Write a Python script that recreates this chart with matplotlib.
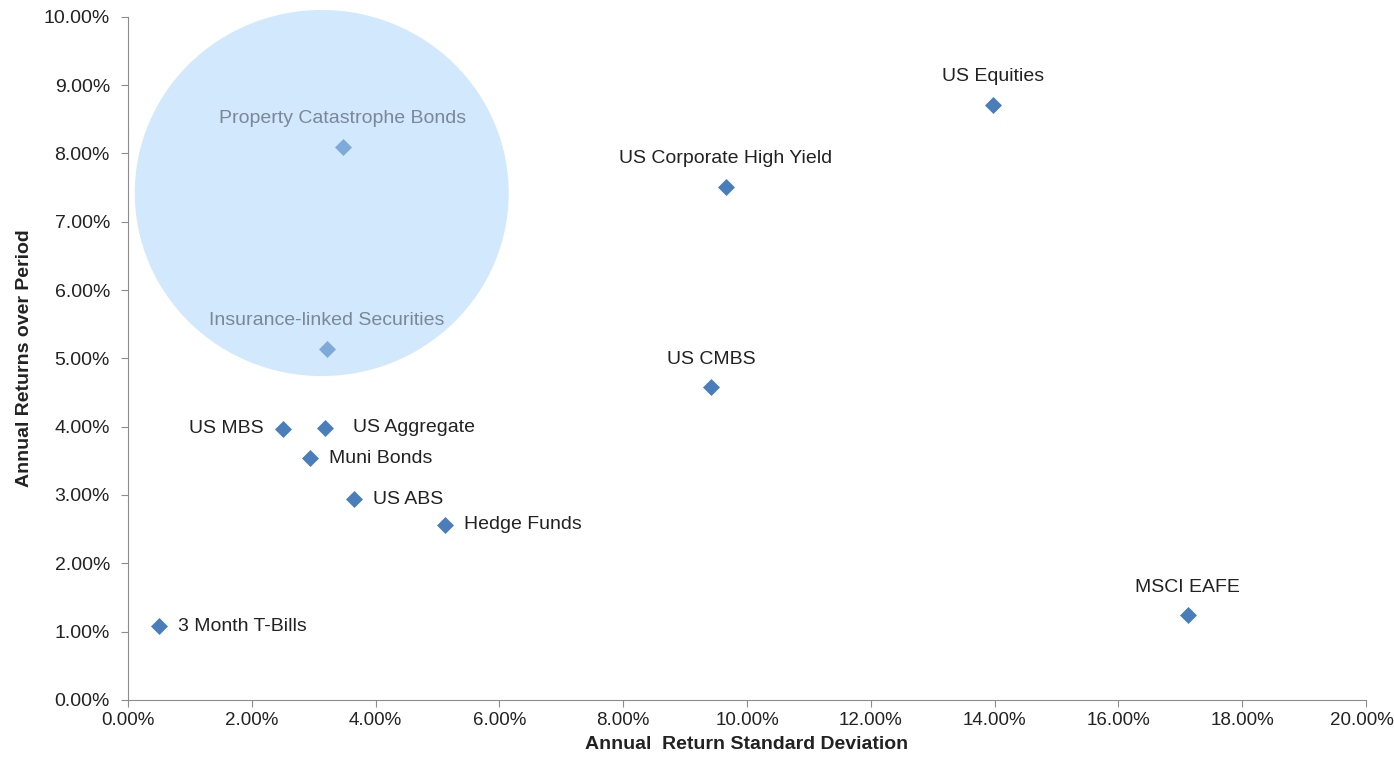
import matplotlib.pyplot as plt
import matplotlib.transforms as mtransforms
from matplotlib.patches import Ellipse
from matplotlib.ticker import FuncFormatter

plt.rcParams['font.family'] = ['Liberation Sans', 'DejaVu Sans']

# annual return std dev (%) and annual return (%)
names = ['US Equities', 'US Corporate High Yield', 'US CMBS', 'US MBS', 'US Aggregate',
         'Muni Bonds', 'US ABS', 'Hedge Funds', '3 Month T-Bills', 'MSCI EAFE']
std_dev = [13.97, 9.66, 9.42, 2.50, 3.18, 2.94, 3.65, 5.12, 0.50, 17.12]
returns = [8.71, 7.51, 4.58, 3.97, 3.98, 3.54, 2.94, 2.56, 1.08, 1.24]
label_pos = ['top', 'top', 'top', 'left', 'right', 'right', 'right', 'right', 'right', 'top']

ils_names = ['Property Catastrophe Bonds', 'Insurance-linked Securities']
ils_std = [3.47, 3.21]
ils_ret = [8.10, 5.14]

fig, ax = plt.subplots(figsize=(13.94, 7.64), dpi=100)
fig.subplots_adjust(left=0.0918, right=0.98, top=0.978, bottom=0.084)

ax.add_patch(Ellipse((3.13, 7.42), 6.04, 5.36, facecolor='#d2e8fc', edgecolor='none',
                     zorder=1, clip_on=False))

ax.scatter(std_dev, returns, marker='D', s=75, color='#4a7ebb', zorder=3, linewidths=0)
ax.scatter(ils_std, ils_ret, marker='D', s=75, color='#7eaadb', zorder=3, linewidths=0)

for n, x, y, p in zip(names, std_dev, returns, label_pos):
    if p == 'top':
        ax.annotate(n, (x, y), xytext=(0, 14), textcoords='offset points', ha='center', va='bottom',
                    fontsize=14, color='#222222')
    elif p == 'left':
        ax.annotate(n, (x, y), xytext=(-14, 0), textcoords='offset points', ha='right', va='center',
                    fontsize=14, color='#222222')
    else:
        dx = 20 if n == 'US Aggregate' else 14
        ax.annotate(n, (x, y), xytext=(dx, 0), textcoords='offset points', ha='left', va='center',
                    fontsize=14, color='#222222')

for n, x, y in zip(ils_names, ils_std, ils_ret):
    ax.annotate(n, (x, y), xytext=(0, 14), textcoords='offset points', ha='center', va='bottom',
                fontsize=14, color='#7a8898')

ax.set_xlim(0, 20)
ax.set_ylim(0, 10)
ax.set_xticks(range(0, 21, 2))
ax.set_yticks(range(0, 11, 1))
fmt = FuncFormatter(lambda v, _: f'{v:.2f}%')
ax.xaxis.set_major_formatter(fmt)
ax.yaxis.set_major_formatter(fmt)

for s in ['top', 'right']:
    ax.spines[s].set_visible(False)
for s in ['left', 'bottom']:
    ax.spines[s].set_color('#8c8c8c')
ax.tick_params(colors='#8c8c8c', labelcolor='#222222', labelsize=14, length=5, direction='out')
ax.tick_params(axis='x', labelsize=13.5)
ax.tick_params(axis='y', pad=8)

# nudge the last x tick label so it stays inside the figure
fig.canvas.draw()
last = ax.get_xticklabels()[-1]
last.set_transform(last.get_transform() + mtransforms.ScaledTranslation(-4 / 100, 0, fig.dpi_scale_trans))

ax.set_xlabel('Annual  Return Standard Deviation', fontsize=14, fontweight='bold', color='#222222', labelpad=5)
ax.set_ylabel('Annual Returns over Period', fontsize=14, fontweight='bold', color='#222222', labelpad=8)

fig.savefig('out.png', dpi=100)
